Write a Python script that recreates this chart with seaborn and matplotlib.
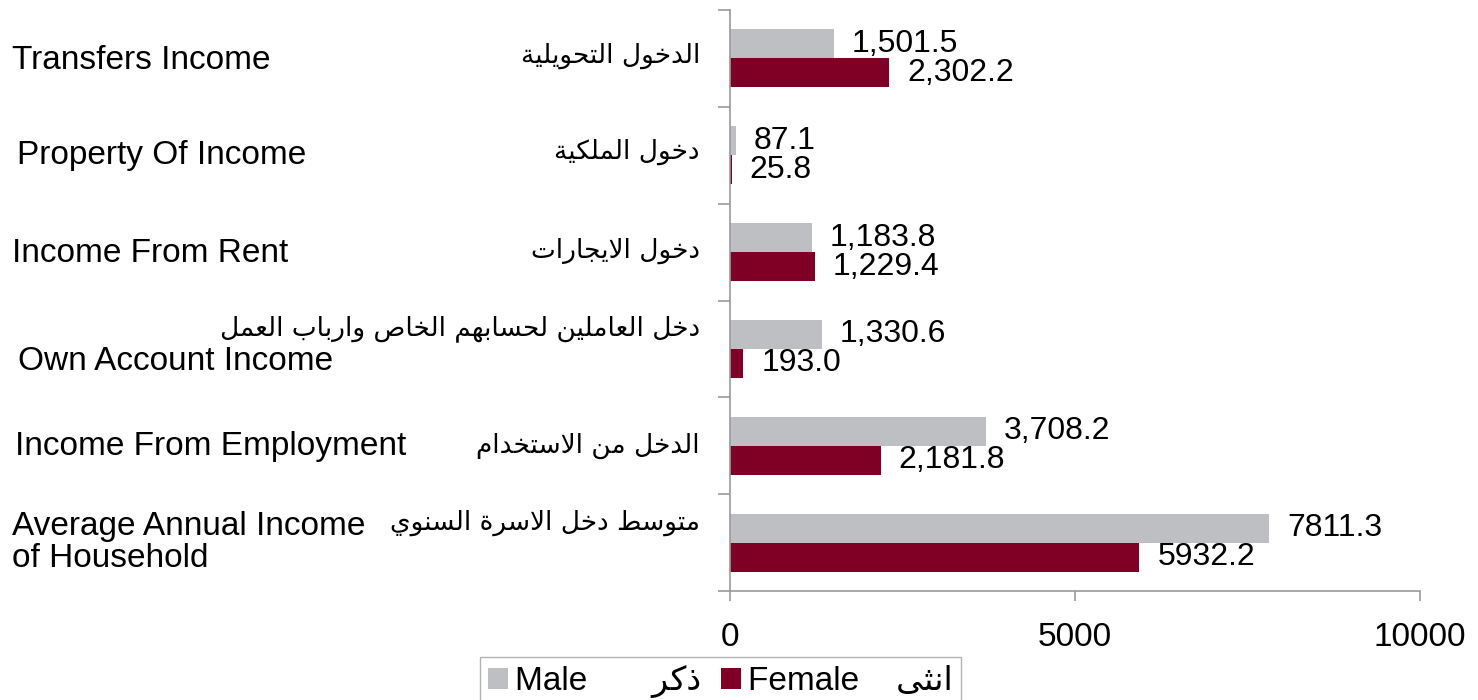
import numpy as np
import pandas as pd
import matplotlib
matplotlib.use("Agg")
import matplotlib.pyplot as plt
import matplotlib.transforms as mtransforms
from matplotlib.ticker import FixedLocator
import seaborn as sns

# ------------------ Data ------------------
categories = ["Transfers Income", "Property Of Income", "Income From Rent",
              "Own Account Income", "Income From Employment",
              "Average Annual Income\nof Household"]
categories_ar = ["الدخول التحويلية", "دخول الملكية", "دخول الايجارات",
                 "دخل العاملين لحسابهم الخاص وارباب العمل", "الدخل من الاستخدام",
                 "متوسط دخل الاسرة السنوي"]
male = [1501.5, 87.1, 1183.8, 1330.6, 3708.2, 7811.3]
female = [2302.2, 25.8, 1229.4, 193.0, 2181.8, 5932.2]
male_labels = ["1,501.5", "87.1", "1,183.8", "1,330.6", "3,708.2", "7811.3"]
female_labels = ["2,302.2", "25.8", "1,229.4", "193.0", "2,181.8", "5932.2"]
series = ["Male", "Female"]
series_ar = ["ذكر", "انثى"]
x_ticks = [0, 5000, 10000]

# ------------------ Arabic shaping (no bidi in matplotlib) ------------------
# isolated, final, initial, medial
FORMS = {
    'ا': ('\uFE8D', '\uFE8E', None, None),
    'ب': ('\uFE8F', '\uFE90', '\uFE91', '\uFE92'),
    'ة': ('\uFE93', '\uFE94', None, None),
    'ت': ('\uFE95', '\uFE96', '\uFE97', '\uFE98'),
    'ث': ('\uFE99', '\uFE9A', '\uFE9B', '\uFE9C'),
    'ج': ('\uFE9D', '\uFE9E', '\uFE9F', '\uFEA0'),
    'ح': ('\uFEA1', '\uFEA2', '\uFEA3', '\uFEA4'),
    'خ': ('\uFEA5', '\uFEA6', '\uFEA7', '\uFEA8'),
    'د': ('\uFEA9', '\uFEAA', None, None),
    'ذ': ('\uFEAB', '\uFEAC', None, None),
    'ر': ('\uFEAD', '\uFEAE', None, None),
    'ز': ('\uFEAF', '\uFEB0', None, None),
    'س': ('\uFEB1', '\uFEB2', '\uFEB3', '\uFEB4'),
    'ص': ('\uFEB9', '\uFEBA', '\uFEBB', '\uFEBC'),
    'ط': ('\uFEC1', '\uFEC2', '\uFEC3', '\uFEC4'),
    'ع': ('\uFEC9', '\uFECA', '\uFECB', '\uFECC'),
    'ك': ('\uFED9', '\uFEDA', '\uFEDB', '\uFEDC'),
    'ل': ('\uFEDD', '\uFEDE', '\uFEDF', '\uFEE0'),
    'م': ('\uFEE1', '\uFEE2', '\uFEE3', '\uFEE4'),
    'ن': ('\uFEE5', '\uFEE6', '\uFEE7', '\uFEE8'),
    'ه': ('\uFEE9', '\uFEEA', '\uFEEB', '\uFEEC'),
    'و': ('\uFEED', '\uFEEE', None, None),
    'ى': ('\uFEEF', '\uFEF0', None, None),
    'ي': ('\uFEF1', '\uFEF2', '\uFEF3', '\uFEF4'),
}


def shape(text):
    tokens = []
    i = 0
    while i < len(text):
        if text[i] == 'ل' and i + 1 < len(text) and text[i + 1] == 'ا':
            tokens.append('LA')
            i += 2
        else:
            tokens.append(text[i])
            i += 1

    def is_ar(t):
        return t == 'LA' or t in FORMS

    def joins_next(t):
        return t != 'LA' and t in FORMS and FORMS[t][2] is not None

    out = []
    for k, t in enumerate(tokens):
        if not is_ar(t):
            out.append(t)
            continue
        prev_c = k > 0 and joins_next(tokens[k - 1])
        next_c = joins_next(t) and k + 1 < len(tokens) and is_ar(tokens[k + 1])
        if t == 'LA':
            out.append('\uFEFC' if prev_c else '\uFEFB')
            continue
        iso, fin, ini, med = FORMS[t]
        if prev_c and next_c:
            out.append(med)
        elif prev_c:
            out.append(fin)
        elif next_c:
            out.append(ini)
        else:
            out.append(iso)
    return ''.join(out)[::-1]


df = pd.DataFrame({
    "category": categories * 2,
    "value": male + female,
    "sex": [series[0]] * len(categories) + [series[1]] * len(categories),
})

# ------------------ Plotting ------------------
sns.set_style("white")
plt.rcParams['font.family'] = ['Liberation Sans', 'DejaVu Sans']
plt.rcParams['text.color'] = 'black'
plt.rcParams['xtick.color'] = 'black'
plt.rcParams['ytick.color'] = 'black'

gray = "#BEBFC3"
red = "#800025"
axis_col = "#9A9A9A"

fig = plt.figure(figsize=(14.78, 7.0), dpi=100)
ax = fig.add_axes([730 / 1478, 1 - 591 / 700, 690 / 1478, 581 / 700])

sns.barplot(data=df, y="category", x="value", hue="sex", orient="h",
            palette=[gray, red], saturation=1, width=0.6, errorbar=None,
            linewidth=0, ax=ax)

ax.bar_label(ax.containers[0], labels=male_labels, padding=13, fontsize=23)
ax.bar_label(ax.containers[1], labels=female_labels, padding=13, fontsize=23)

ax.set_xlim(0, 10000)
ax.set_ylim(len(categories) - 0.5, -0.5)
ax.set_xticks(x_ticks)
ax.set_xticklabels([str(t) for t in x_ticks], fontsize=24)
ax.set_yticks([])
ax.yaxis.set_minor_locator(FixedLocator(np.arange(-0.5, len(categories), 1)))
ax.tick_params(axis="x", which="major", direction="out", length=7, width=1.2,
               color=axis_col, labelcolor="black", pad=15, bottom=True)
ax.tick_params(axis="y", which="minor", direction="out", length=9, width=1.2,
               color=axis_col, left=True)
ax.set_xlabel("")
ax.set_ylabel("")
sns.despine(ax=ax, top=True, right=True)
for s in ["left", "bottom"]:
    ax.spines[s].set_color(axis_col)
    ax.spines[s].set_linewidth(1.2)

# category labels (English left, Arabic next to the axis)
trans = mtransforms.blended_transform_factory(fig.transFigure, ax.transData)
en_x = [12, 17, 12, 18, 15, 12]
en_dy = [0.02, 0.0, 0.01, 0.13, 0.01, 0.0]
ar_dy = [-0.03, -0.03, -0.01, -0.21, 0.0, -0.2]
for i, (en, ar) in enumerate(zip(categories, categories_ar)):
    fig.text(en_x[i] / 1478, i + en_dy[i], en, transform=trans, ha="left",
             va="center", fontsize=24, linespacing=1.05, color="black")
    fig.text(700 / 1478, i + ar_dy[i], shape(ar), transform=trans, ha="right",
             va="center", fontsize=19, family=["DejaVu Sans"], color="black")

# legend
handles, _ = ax.get_legend_handles_labels()
leg_labels = [series[0] + " " * 7 + shape(series_ar[0]),
              series[1] + " " * 4 + shape(series_ar[1])]
leg = ax.legend(handles, leg_labels, loc="upper left", ncol=2,
                bbox_to_anchor=(480 / 1478, 1 - 657 / 700),
                bbox_transform=fig.transFigure,
                fontsize=24, frameon=True, fancybox=False, edgecolor="#A0A0A0",
                handlelength=0.6, handleheight=0.6, handletextpad=0.2,
                columnspacing=0.6, borderpad=0.25, borderaxespad=0)
for t in leg.get_texts():
    t.set_color("black")

fig.savefig("out.png", dpi=100)
